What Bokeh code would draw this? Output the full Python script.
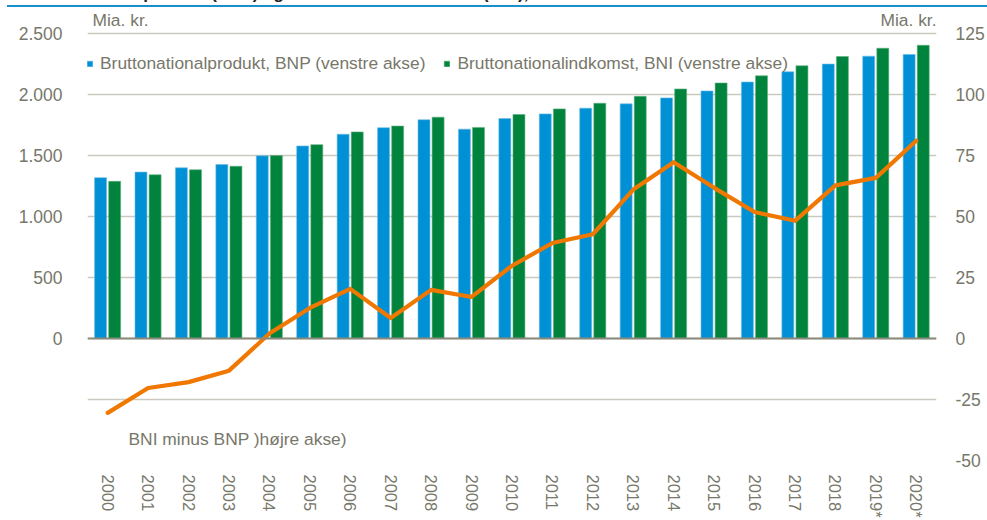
import math
from bokeh.plotting import figure
from bokeh.layouts import column
from bokeh.models import (FactorRange, Range1d, LinearAxis, FixedTicker, Legend, LegendItem,
                          ColumnDataSource, Label, Span, Div)
from bokeh.transform import dodge
from bokeh.embed import file_html
from bokeh.resources import INLINE

# ---- data ----
years = ["2000", "2001", "2002", "2003", "2004", "2005", "2006", "2007", "2008", "2009",
         "2010", "2011", "2012", "2013", "2014", "2015", "2016", "2017", "2018", "2019*", "2020*"]
bnp = [1317, 1363, 1398, 1425, 1496, 1577, 1673, 1727, 1792, 1715,
       1802, 1840, 1887, 1922, 1971, 2028, 2101, 2185, 2248, 2313, 2327]
bni = [1287, 1341, 1382, 1411, 1498, 1588, 1692, 1740, 1813, 1729,
       1835, 1881, 1927, 1984, 2044, 2093, 2152, 2234, 2310, 2378, 2402]
diff = [-30.5, -20.3, -17.9, -13.2, 2.0, 12.5, 20.3, 8.4, 19.9, 17.0,
        29.8, 39.1, 42.7, 61.0, 72.2, 61.7, 51.8, 48.2, 62.7, 65.8, 81.0]
left_ticks = [0, 500, 1000, 1500, 2000, 2500]
right_ticks = [-50, -25, 0, 25, 50, 75, 100, 125]

title_text = "Bruttonationalprodukt (BNP) og bruttonationalindkomst (BNI), 2000-2020"
label_bnp = "Bruttonationalprodukt, BNP (venstre akse)"
label_bni = "Bruttonationalindkomst, BNI (venstre akse)"
label_diff = "BNI minus BNP )højre akse)"
unit_label = "Mia. kr."

FONT = "Liberation Sans"
TXT = "#77776a"
BLUE = "#0090d5"
GREEN = "#00843d"
ORANGE = "#f07800"
GRID = "#c9c9bf"
RULE = "#1a8fd0"

# layout geometry (pixels)
HEAD = 7            # height of the heading strip with the blue rule
FIG_H = 520 - HEAD
GRID_TOP = 33       # page y of the top gridline
ZERO_BOTTOM = 463   # page y of the lowest gridline
EXTRA = (GRID_TOP - HEAD) / (ZERO_BOTTOM - GRID_TOP)   # fraction of the gridded span

src = ColumnDataSource(dict(year=years, bnp=bnp, bni=bni, diff=diff))

l_lo, l_hi = -1000, 2500
r_lo, r_hi = right_ticks[0], right_ticks[-1]
p = figure(x_range=FactorRange(*years, range_padding=0),
           y_range=Range1d(l_lo, l_hi + EXTRA * (l_hi - l_lo)),
           width=987, height=FIG_H, output_backend="svg", toolbar_location=None,
           min_border_left=87, min_border_right=48, min_border_top=0, min_border_bottom=57)
p.margin = 0
p.outline_line_color = None
p.background_fill_color = "white"
p.border_fill_color = "white"

p.extra_y_ranges = {"r": Range1d(r_lo, r_hi + EXTRA * (r_hi - r_lo))}

# grid
ratio = l_hi / r_hi
p.ygrid.ticker = FixedTicker(ticks=[t * ratio for t in right_ticks])
p.ygrid.grid_line_color = GRID
p.ygrid.grid_line_width = 1.3
p.xgrid.grid_line_color = None

bar_b = p.vbar(x=dodge("year", -0.177, range=p.x_range), top="bnp", width=0.296, source=src,
               fill_color=BLUE, line_color="#6cbbe6", line_width=0.6)
bar_g = p.vbar(x=dodge("year", 0.172, range=p.x_range), top="bni", width=0.296, source=src,
               fill_color=GREEN, line_color="#5fae80", line_width=0.6)

p.add_layout(Span(location=0, dimension="width", line_color="#8a8a7c", line_width=2))

p.line(x="year", y="diff", source=src, y_range_name="r", line_color=ORANGE,
       line_width=4.2, line_join="round", line_cap="round")

# axes
yl = p.yaxis[0]
yl.ticker = FixedTicker(ticks=left_ticks)
yl.major_label_overrides = {t: f"{t:,}".replace(",", ".") for t in left_ticks}
ra = LinearAxis(y_range_name="r", ticker=FixedTicker(ticks=right_ticks))
ra.major_label_overrides = {t: str(t) for t in right_ticks}
p.add_layout(ra, "right")
for ax in (yl, ra):
    ax.axis_line_color = None
    ax.major_tick_line_color = None
    ax.minor_tick_line_color = None
    ax.major_tick_out = 0
    ax.major_tick_in = 0
    ax.major_label_text_color = TXT
    ax.major_label_text_font = FONT
    ax.major_label_text_font_size = "17.5px"
yl.major_label_standoff = 25
ra.major_label_standoff = 19

xa = p.xaxis[0]
xa.axis_line_color = None
xa.major_tick_line_color = None
xa.major_tick_out = 0
xa.major_tick_in = 0
xa.major_label_orientation = -math.pi / 2
xa.major_label_text_color = TXT
xa.major_label_text_font = FONT
xa.major_label_text_font_size = "16.5px"
xa.major_label_standoff = 14

# legend
legend = Legend(items=[LegendItem(label=label_bnp, renderers=[bar_b]),
                       LegendItem(label=label_bni, renderers=[bar_g])],
                orientation="horizontal", location=(-1, 386),
                glyph_width=7, glyph_height=7, label_standoff=7, spacing=18,
                padding=0, margin=0, border_line_color=None, background_fill_alpha=0,
                label_text_font=FONT, label_text_font_size="17.4px", label_text_color=TXT)
p.add_layout(legend, "center")

# labels (screen units from the frame's bottom-left corner)
p.add_layout(Label(x=5, y=431, x_units="screen", y_units="screen", text=unit_label,
                   text_font=FONT, text_font_size="17.4px", text_color=TXT))
p.add_layout(Label(x=849, y=431, x_units="screen", y_units="screen", text=unit_label,
                   text_align="right", text_font=FONT, text_font_size="17.4px", text_color=TXT))
p.add_layout(Label(x=41, y=12, x_units="screen", y_units="screen", text=label_diff,
                   text_font=FONT, text_font_size="17.4px", text_color=TXT))

# heading strip: clipped title and the blue rule
head = Div(text=(f'<span style="position:relative; top:-16px; left:27px; white-space:nowrap; '
                 f'font:bold 17px \'Liberation Sans\', Arial, sans-serif; color:#222222;">'
                 f'{title_text}</span>'),
           width=987, height=HEAD, margin=0,
           styles={"overflow": "hidden",
                   "background": f"linear-gradient({RULE}, {RULE}) 7px 5px / 980px 2px no-repeat, white"})

layout = column(head, p, spacing=0, margin=0)

open("out.html", "w").write(file_html(layout, INLINE))
